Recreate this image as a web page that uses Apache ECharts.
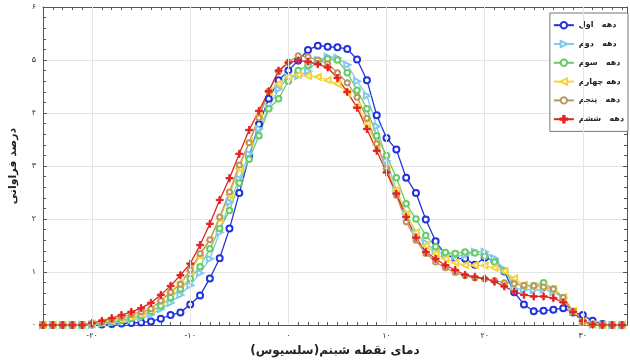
<!DOCTYPE html>
<html><head><meta charset="utf-8">
<script src="https://cdn.jsdelivr.net/npm/echarts@6/dist/echarts.min.js"></script>
<style>html,body{margin:0;padding:0;background:#fff}#c{width:630px;height:362px}</style>
</head><body><div id="c"></div>
<script>
// Dew point temperature (°C), one value per degree
const xValues = [-25,-24,-23,-22,-21,-20,-19,-18,-17,-16,-15,-14,-13,-12,-11,-10,-9,-8,-7,-6,-5,-4,-3,-2,-1,0,1,2,3,4,5,6,7,8,9,10,11,12,13,14,15,16,17,18,19,20,21,22,23,24,25,26,27,28,29,30,31,32,33,34];

const seriesNames = ['دهه   اول','دهه   دوم','دهه   سوم','دهه چهارم','دهه   پنجم','دهه   ششم'];

const decade1 = [0,0,0,0,0,
 0.01,0.01,0.02,0.03,0.04,0.05,0.07,0.12,0.19,0.24,
 0.39,0.56,0.88,1.26,1.82,2.49,3.18,3.79,4.27,4.62,
 4.8,4.99,5.19,5.27,5.25,5.24,5.21,5.01,4.62,3.96,
 3.53,3.31,2.78,2.49,1.99,1.58,1.33,1.26,1.25,1.14,
 1.27,1.21,1.01,0.62,0.39,0.26,0.27,0.29,0.32,0.24,
 0.19,0.08,0.02,0,0];
const decade2 = [0,0,0,0,0,
 0.01,0.03,0.05,0.07,0.1,0.14,0.2,0.3,0.42,0.57,
 0.75,0.98,1.25,1.75,2.32,2.76,3.23,3.7,4.1,4.45,
 4.68,4.7,4.79,5.0,5.06,5.04,4.91,4.6,4.33,3.75,
 3.1,2.55,2.1,1.75,1.55,1.4,1.33,1.3,1.32,1.38,
 1.38,1.26,1.05,0.69,0.67,0.66,0.67,0.62,0.51,0.25,
 0.06,0.01,0,0,0];
const decade3 = [0,0,0,0,0,
 0.02,0.04,0.06,0.09,0.13,0.18,0.26,0.36,0.52,0.68,
 0.88,1.1,1.44,1.82,2.16,2.68,3.13,3.57,4.08,4.27,
 4.6,4.8,4.9,4.99,5.02,5.0,4.76,4.43,4.08,3.57,
 3.2,2.78,2.29,2.0,1.69,1.48,1.37,1.35,1.38,1.36,
 1.3,1.19,1.02,0.8,0.74,0.74,0.8,0.68,0.51,0.25,
 0.06,0.01,0,0,0];
const decade4 = [0,0,0,0,0,
 0.02,0.05,0.08,0.12,0.17,0.22,0.3,0.45,0.62,0.8,
 1.02,1.3,1.6,2.0,2.45,2.95,3.45,3.95,4.4,4.55,
 4.68,4.72,4.7,4.68,4.62,4.55,4.38,4.12,3.8,3.4,
 2.95,2.55,2.1,1.75,1.5,1.35,1.25,1.18,1.13,1.13,
 1.12,1.08,1.02,0.88,0.76,0.74,0.72,0.68,0.53,0.27,
 0.07,0.01,0,0,0];
const decade5 = [0,0,0,0,0,
 0.03,0.06,0.1,0.15,0.2,0.25,0.31,0.46,0.62,0.77,
 1.04,1.35,1.61,2.04,2.51,3.02,3.44,3.91,4.41,4.78,
 4.96,5.08,5.06,5.0,4.93,4.76,4.57,4.3,3.9,3.42,
 2.95,2.45,1.95,1.6,1.35,1.19,1.08,0.99,0.93,0.89,
 0.87,0.84,0.8,0.78,0.75,0.74,0.72,0.68,0.52,0.26,
 0.07,0.01,0,0,0];
const decade6 = [0,0,0,0,0,
 0.04,0.08,0.13,0.19,0.25,0.32,0.42,0.57,0.74,0.94,
 1.16,1.51,1.91,2.36,2.77,3.23,3.68,4.04,4.41,4.8,
 4.95,4.99,4.97,4.92,4.86,4.66,4.4,4.1,3.7,3.29,
 2.88,2.48,2.04,1.65,1.38,1.25,1.13,1.04,0.95,0.91,
 0.88,0.82,0.73,0.63,0.57,0.54,0.54,0.51,0.43,0.25,
 0.08,0.01,0,0,0];

const xGridTicks = [-20,-10,0,10,20,30];
const xLabelTicks = [-20,-10,0,10,20,30];
const yLabelTicks = [0,1,2,3,4,5,6];

const colors = ['#2233dd','#7fc8ee','#66cc66','#f5d43c','#b89760','#e52222'];
const symbols = ['emptyCircle','emptyTriangle','emptyCircle','emptyTriangle','emptyCircle',
  'path://M4,0h2v4h4v2h-4v4h-2v-4h-4v-2h4z'];
const rotates = [0,-90,0,90,0,0];
const sizes = [6,6,5.5,6,5,7];
const allData = [decade1,decade2,decade3,decade4,decade5,decade6];

const fa = s => String(s).replace(/\d/g, d => '۰۱۲۳۴۵۶۷۸۹'[d]);
const FONT = 'DejaVu Sans';
const axisCol = '#555';

const series = allData.map((arr, k) => ({
  name: seriesNames[k], type: 'line',
  data: xValues.map((x, i) => [x, arr[i]]),
  symbol: symbols[k], symbolSize: sizes[k], symbolRotate: rotates[k],
  showAllSymbol: true,
  lineStyle: {color: colors[k], width: 1.3},
  itemStyle: {color: colors[k], borderColor: colors[k], borderWidth: 1},
  z: 3, animation: false
}));
series.unshift({
  name: 'grid', type: 'line', data: [[-25, null]], showSymbol: false, z: 1, animation: false,
  markLine: {silent: true, symbol: ['none','none'], label: {show: false}, animation: false,
    lineStyle: {color: '#e4e4e4', type: 'solid', width: 1},
    data: xGridTicks.map(v => ({xAxis: v}))}
});

const chart = echarts.init(document.getElementById('c'), null, {renderer: 'canvas'});
chart.setOption({
  animation: false,
  backgroundColor: '#fff',
  grid: {left: 37, right: 2, top: 7, bottom: 35, containLabel: false},
  legend: {
    data: seriesNames, orient: 'vertical', right: 2, top: 13,
    itemWidth: 20, itemHeight: 8, itemGap: 10.4,
    padding: [8, 4, 8, 3],
    backgroundColor: '#fff', borderColor: '#555', borderWidth: 0.8,
    textStyle: {fontFamily: FONT, fontSize: 8, fontWeight: 'bold', color: '#222'}
  },
  xAxis: [{
    type: 'value', min: -25, max: 34.5, interval: 1, position: 'bottom',
    name: 'دمای نقطه شبنم(سلسیوس)', nameLocation: 'middle', nameGap: 15,
    nameTextStyle: {fontFamily: FONT, fontSize: 12, fontWeight: 'bold', color: '#222'},
    axisLine: {show: true, onZero: false, lineStyle: {color: axisCol, width: 1}},
    axisTick: {show: true, inside: true, length: 3, lineStyle: {color: axisCol}},
    axisLabel: {fontFamily: FONT, fontSize: 8, color: '#333', margin: 7,
      formatter: v => xLabelTicks.indexOf(v) >= 0 ? fa(v) : ''},
    splitLine: {show: false}
  }, {
    type: 'value', min: -25, max: 34.5, interval: 1, position: 'top',
    axisLine: {show: true, onZero: false, lineStyle: {color: axisCol, width: 1}},
    axisTick: {show: true, inside: true, length: 3, lineStyle: {color: axisCol}},
    axisLabel: {show: false}, splitLine: {show: false}
  }],
  yAxis: [{
    type: 'value', min: 0, max: 6, interval: 1, position: 'left',
    name: 'درصد فراوانی', nameLocation: 'middle', nameGap: 24,
    nameTextStyle: {fontFamily: FONT, fontSize: 11, fontWeight: 'bold', color: '#222'},
    axisLine: {show: true, onZero: false, lineStyle: {color: axisCol, width: 1}},
    axisTick: {show: true, inside: true, length: 4, lineStyle: {color: axisCol}},
    minorTick: {show: true, splitNumber: 5, length: 3, lineStyle: {color: axisCol}},
    axisLabel: {fontFamily: FONT, fontSize: 8, color: '#333', margin: 7,
      formatter: v => yLabelTicks.indexOf(v) >= 0 ? fa(v) : ''},
    splitLine: {show: true, lineStyle: {color: '#e4e4e4', width: 1}}
  }, {
    type: 'value', min: 0, max: 6, interval: 1, position: 'right',
    axisLine: {show: true, onZero: false, lineStyle: {color: axisCol, width: 1}},
    axisTick: {show: true, inside: true, length: 4, lineStyle: {color: axisCol}},
    minorTick: {show: true, splitNumber: 5, length: 3, lineStyle: {color: axisCol}},
    axisLabel: {show: false}, splitLine: {show: false}
  }],
  series: series
});
</script>
</body></html>
